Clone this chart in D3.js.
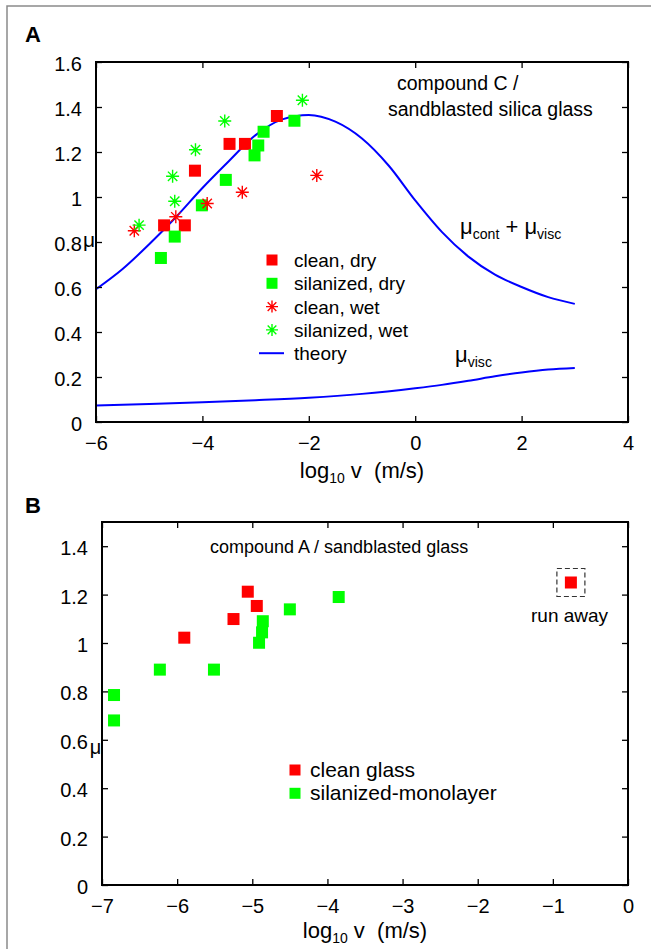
<!DOCTYPE html>
<html>
<head>
<meta charset="utf-8">
<script src="https://cdn.jsdelivr.net/npm/d3@7"></script>
<style>
  body { margin: 0; background: #fff; }
  svg { display: block; font-family: "Liberation Sans", Arial, sans-serif; }
</style>
</head>
<body>
<svg id="fig" width="651" height="949"></svg>
<script>
// ---- panel A data: [log10 v, mu] ----
const aCleanDry = [[-4.72, 0.874], [-4.33, 0.874], [-4.14, 1.117], [-3.49, 1.236], [-3.20, 1.236], [-2.60, 1.36]];
const aSilDry = [[-4.78, 0.729], [-4.52, 0.824], [-4.01, 0.963], [-3.56, 1.076], [-3.02, 1.185],
  [-2.95, 1.229], [-2.85, 1.29], [-2.27, 1.339]];
const aCleanWet = [[-5.28, 0.85], [-4.50, 0.912], [-3.91, 0.971], [-3.25, 1.021], [-1.85, 1.096]];
const aSilWet = [[-5.19, 0.875], [-4.52, 0.981], [-4.56, 1.092], [-4.13, 1.21], [-3.58, 1.338], [-2.12, 1.43]];

// theory curves
const theoryV = [-6, -5.5, -5, -4.5, -4, -3.5, -3, -2.5, -2, -1.5, -1, -0.5, 0, 0.5, 1, 1.5, 2, 2.5, 3];
const muTotal = [0.59, 0.68, 0.79, 0.91, 1.04, 1.16, 1.275, 1.345, 1.365, 1.335, 1.26, 1.14, 0.985, 0.845, 0.735, 0.655, 0.60, 0.555, 0.525];
const viscV = [-6, -5, -4, -3, -2, -1, 0, 0.5, 1, 1.5, 2, 2.5, 3];
const muVisc = [0.073, 0.08, 0.088, 0.097, 0.108, 0.125, 0.15, 0.165, 0.183, 0.203, 0.22, 0.233, 0.24];

const aXTicks = [-6, -4, -2, 0, 2, 4];
const aYTicks = [0, 0.2, 0.4, 0.6, 0.8, 1, 1.2, 1.4, 1.6];

// ---- panel B data ----
const bClean = [[-5.905, 1.022], [-5.25, 1.099], [-5.06, 1.212], [-4.94, 1.153]];
const bSil = [[-6.84, 0.785], [-6.84, 0.68], [-6.23, 0.89], [-5.51, 0.89], [-4.91, 1.001],
  [-4.87, 1.044], [-4.86, 1.09], [-4.50, 1.139], [-3.85, 1.19]];
const bRunAway = [[-0.76, 1.25]];

const bXTicks = [-7, -6, -5, -4, -3, -2, -1, 0];
const bYTicks = [0, 0.2, 0.4, 0.6, 0.8, 1, 1.2, 1.4];

const RED = "#ff0000", GREEN = "#00ff00", BLUE = "#0000ff";

var svg = d3.select("#fig");

// outer figure border (top + left only)
svg.append("path")
  .attr("d", "M7,949 L7,6 L651,6")
  .attr("fill", "none").attr("stroke", "#8a8a8a").attr("stroke-width", 1.5);

var fmt = d3.format("~g");

function asterisk(r) {
  var d = r * 0.72;
  return `M${-r},0L${r},0M0,${-r}L0,${r}M${-d},${-d}L${d},${d}M${-d},${d}L${d},${-d}`;
}

// draws frame, mirrored inward ticks and tick labels
function drawFrame(g, x, y, xTicks, yTicks) {
  var x0 = x.range()[0], x1 = x.range()[1], y0 = y.range()[0], y1 = y.range()[1];
  var ax = [
    [d3.axisBottom(x).tickValues(xTicks).tickFormat(fmt), y0],
    [d3.axisTop(x).tickValues(xTicks).tickFormat(""), y1]
  ];
  ax.forEach(function (a) {
    var s = g.append("g").attr("transform", `translate(0,${a[1]})`)
      .call(a[0].tickSizeInner(-6).tickSizeOuter(0).tickPadding(14));
    s.select(".domain").remove();
    s.selectAll("line").attr("stroke", "#000").attr("stroke-width", 1.3);
    s.selectAll("text").attr("font-size", 20).attr("fill", "#000")
      .attr("font-family", "Liberation Sans, Arial, sans-serif");
  });
  var ay = [
    [d3.axisLeft(y).tickValues(yTicks).tickFormat(fmt), x0],
    [d3.axisRight(y).tickValues(yTicks).tickFormat(""), x1]
  ];
  ay.forEach(function (a) {
    var s = g.append("g").attr("transform", `translate(${a[1]},0)`)
      .call(a[0].tickSizeInner(-6).tickSizeOuter(0).tickPadding(14));
    s.select(".domain").remove();
    s.selectAll("line").attr("stroke", "#000").attr("stroke-width", 1.3);
    s.selectAll("text").attr("font-size", 20).attr("fill", "#000").attr("dy", "0.42em")
      .attr("font-family", "Liberation Sans, Arial, sans-serif");
  });
  g.append("rect")
    .attr("x", x0).attr("y", y1).attr("width", x1 - x0).attr("height", y0 - y1)
    .attr("fill", "none").attr("stroke", "#000").attr("stroke-width", 2);
}

function squares(g, data, x, y, color, size) {
  g.selectAll(null).data(data).enter().append("rect")
    .attr("x", d => x(d[0]) - size / 2).attr("y", d => y(d[1]) - size / 2)
    .attr("width", size).attr("height", size).attr("fill", color);
}

function stars(g, data, x, y, color) {
  g.selectAll(null).data(data).enter().append("path")
    .attr("d", asterisk(6.5))
    .attr("transform", d => `translate(${x(d[0])},${y(d[1])})`)
    .attr("stroke", color).attr("stroke-width", 1.4).attr("fill", "none");
}

function xLabel(g, cx, yb) {
  var t = g.append("text").attr("x", cx).attr("y", yb).attr("text-anchor", "middle")
    .attr("font-size", 22);
  t.append("tspan").text("log");
  t.append("tspan").attr("font-size", 14).attr("dy", 5).text("10");
  t.append("tspan").attr("dy", -5).text(" v\u00a0 (m/s)");
}

// subscripted mu labels, e.g. mu_cont + mu_visc
function muText(g, x, y, parts, size) {
  var t = g.append("text").attr("x", x).attr("y", y).attr("font-size", size);
  parts.forEach(function (p, i) {
    t.append("tspan").text("\u03bc");
    t.append("tspan").attr("font-size", size * 0.64).attr("dy", 5).text(p);
    if (i < parts.length - 1) t.append("tspan").attr("dy", -5).text(" + ");
  });
}

// ================= Panel A =================
var xA = d3.scaleLinear().domain([-6, 4]).range([96, 628]);
var yA = d3.scaleLinear().domain([0, 1.6]).range([422, 62]);
var gA = svg.append("g");

var line = d3.line().x(d => xA(d[0])).y(d => yA(d[1])).curve(d3.curveMonotoneX);
gA.append("path").datum(theoryV.map((v, i) => [v, muTotal[i]]))
  .attr("d", line).attr("fill", "none").attr("stroke", BLUE).attr("stroke-width", 2);
gA.append("path").datum(viscV.map((v, i) => [v, muVisc[i]]))
  .attr("d", line).attr("fill", "none").attr("stroke", BLUE).attr("stroke-width", 2);

squares(gA, aCleanDry, xA, yA, RED, 12);
squares(gA, aSilDry, xA, yA, GREEN, 12);
stars(gA, aCleanWet, xA, yA, RED);
stars(gA, aSilWet, xA, yA, GREEN);

drawFrame(gA, xA, yA, aXTicks, aYTicks);

gA.append("text").attr("x", 25).attr("y", 42).attr("font-size", 22).attr("font-weight", "bold").text("A");
gA.append("text").attr("x", 89).attr("y", 247).attr("font-size", 21).attr("text-anchor", "middle").text("\u03bc");
xLabel(gA, 362, 478);

gA.append("text").attr("x", 397).attr("y", 90).attr("font-size", 19.5).text("compound C /");
gA.append("text").attr("x", 388).attr("y", 116).attr("font-size", 19.5).text("sandblasted silica glass");

muText(gA, 460, 234, ["cont", "visc"], 22);
muText(gA, 455, 362, ["visc"], 22);

// legend A
var legA = [
  { label: "clean, dry", kind: "sq", color: RED },
  { label: "silanized, dry", kind: "sq", color: GREEN },
  { label: "clean, wet", kind: "st", color: RED },
  { label: "silanized, wet", kind: "st", color: GREEN },
  { label: "theory", kind: "ln", color: BLUE }
];
legA.forEach(function (d, i) {
  var cy = 260 + i * 23.3, cx = 272;
  if (d.kind === "sq") gA.append("rect").attr("x", cx - 5.5).attr("y", cy - 5.5).attr("width", 11).attr("height", 11).attr("fill", d.color);
  if (d.kind === "st") gA.append("path").attr("d", asterisk(6)).attr("transform", `translate(${cx},${cy})`)
    .attr("stroke", d.color).attr("stroke-width", 1.4).attr("fill", "none");
  if (d.kind === "ln") gA.append("line").attr("x1", 259).attr("x2", 284).attr("y1", cy).attr("y2", cy)
    .attr("stroke", d.color).attr("stroke-width", 2);
  gA.append("text").attr("x", 294).attr("y", cy + 7).attr("font-size", 19).text(d.label);
});

// ================= Panel B =================
var xB = d3.scaleLinear().domain([-7, 0]).range([102, 628]);
var yB = d3.scaleLinear().domain([0, 1.5]).range([885, 522]);
var gB = svg.append("g");

squares(gB, bClean, xB, yB, RED, 12);
squares(gB, bSil, xB, yB, GREEN, 12);
squares(gB, bRunAway, xB, yB, RED, 12);

// dashed box around the run-away point
gB.selectAll(null).data(bRunAway).enter().append("rect")
  .attr("x", d => xB(d[0]) - 14).attr("y", d => yB(d[1]) - 14)
  .attr("width", 28).attr("height", 28)
  .attr("fill", "none").attr("stroke", "#333").attr("stroke-width", 1.2).attr("stroke-dasharray", "5,3");

drawFrame(gB, xB, yB, bXTicks, bYTicks);

gB.append("text").attr("x", 25).attr("y", 513).attr("font-size", 22).attr("font-weight", "bold").text("B");
gB.append("text").attr("x", 95.5).attr("y", 754).attr("font-size", 20).attr("text-anchor", "middle").text("\u03bc");
xLabel(gB, 365, 938);

gB.append("text").attr("x", 210).attr("y", 553).attr("font-size", 18).text("compound A / sandblasted glass");
gB.append("text").attr("x", 531).attr("y", 622).attr("font-size", 19).text("run away");

var legB = [
  { label: "clean glass", color: RED },
  { label: "silanized-monolayer", color: GREEN }
];
legB.forEach(function (d, i) {
  var cy = 770 + i * 23.3;
  gB.append("rect").attr("x", 289.5).attr("y", cy - 5.5).attr("width", 11).attr("height", 11).attr("fill", d.color);
  gB.append("text").attr("x", 310).attr("y", cy + 7).attr("font-size", 21).text(d.label);
});
</script>
</body>
</html>
